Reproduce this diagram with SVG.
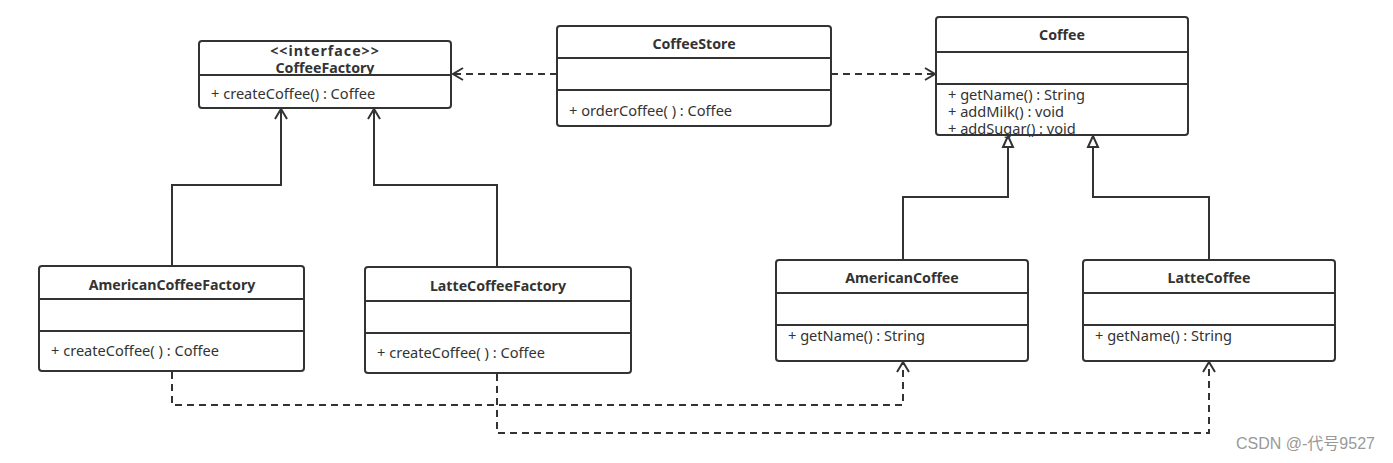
<svg xmlns="http://www.w3.org/2000/svg" width="1393" height="463" viewBox="0 0 1393 463">
<defs>
<style>
.box{fill:#fff;stroke:#333;stroke-width:2}
.div{stroke:#333;stroke-width:2}
.t{font-family:"Noto Sans","Open Sans",sans-serif;font-size:14.2px;font-weight:bold;fill:#333;text-anchor:middle}
.m{font-family:"Noto Sans","Open Sans",sans-serif;font-size:14.6px;fill:#333}
.c{fill:none;stroke:#333;stroke-width:2}
.d{fill:none;stroke:#333;stroke-width:2;stroke-dasharray:7,5}
.wm{font-family:"Liberation Sans","Noto Sans CJK SC",sans-serif;font-size:16px;fill:#999}
</style>
<marker id="open" markerWidth="14" markerHeight="14" refX="12" refY="7" orient="auto" markerUnits="userSpaceOnUse">
<path d="M2,1 L12,7 L2,13" fill="none" stroke="#333" stroke-width="2"/>
</marker>
<marker id="tri" markerWidth="14" markerHeight="14" refX="12" refY="7" orient="auto" markerUnits="userSpaceOnUse">
<path d="M1,2 L12,7 L1,12 Z" fill="#fff" stroke="#333" stroke-width="2"/>
</marker>
</defs>
<rect width="1393" height="463" fill="#fff"/>
<g id="connectors">
<path class="d" d="M557,74 H453" marker-end="url(#open)"/>
<path class="d" d="M831,74 H935" marker-end="url(#open)"/>
<path class="c" d="M172,266 V185 H281 V109" marker-end="url(#open)"/>
<path class="c" d="M497,267 V185 H374 V109" marker-end="url(#open)"/>
<path class="c" d="M903,260 V197 H1008 V136" marker-end="url(#tri)"/>
<path class="c" d="M1209,260 V197 H1093 V136" marker-end="url(#tri)"/>
<path class="d" d="M172,372 V405 H903 V362" marker-end="url(#open)"/>
<path class="d" d="M497,374 V433 H1209 V362" marker-end="url(#open)"/>
</g>
<g id="CoffeeFactory">
<rect class="box" x="199" y="41" width="252" height="67" rx="3"/>
<line class="div" x1="199" y1="75" x2="451" y2="75"/>
<text class="t" x="325" y="56" letter-spacing="1">&lt;&lt;interface&gt;&gt;</text>
<text class="t" x="325" y="73">CoffeeFactory</text>
<text class="m" x="211" y="99">+ createCoffee() : Coffee</text>
</g>
<g id="CoffeeStore">
<rect class="box" x="557" y="26" width="274" height="100" rx="3"/>
<line class="div" x1="557" y1="58" x2="831" y2="58"/>
<line class="div" x1="557" y1="90" x2="831" y2="90"/>
<text class="t" x="694" y="49">CoffeeStore</text>
<text class="m" x="569" y="116">+ orderCoffee( ) : Coffee</text>
</g>
<g id="Coffee">
<rect class="box" x="936" y="17" width="252" height="118" rx="3"/>
<line class="div" x1="936" y1="52" x2="1188" y2="52"/>
<line class="div" x1="936" y1="84" x2="1188" y2="84"/>
<text class="t" x="1062" y="40">Coffee</text>
<text class="m" x="948" y="100">+ getName() : String</text>
<text class="m" x="948" y="117">+ addMilk() : void</text>
<text class="m" x="948" y="134">+ addSugar() : void</text>
</g>
<g id="AmericanCoffeeFactory">
<rect class="box" x="39" y="266" width="265" height="105" rx="3"/>
<line class="div" x1="39" y1="299" x2="304" y2="299"/>
<line class="div" x1="39" y1="331" x2="304" y2="331"/>
<text class="t" x="172" y="290">AmericanCoffeeFactory</text>
<text class="m" x="51" y="356">+ createCoffee( ) : Coffee</text>
</g>
<g id="LatteCoffeeFactory">
<rect class="box" x="365" y="267" width="266" height="106" rx="3"/>
<line class="div" x1="365" y1="301" x2="631" y2="301"/>
<line class="div" x1="365" y1="333" x2="631" y2="333"/>
<text class="t" x="498" y="291">LatteCoffeeFactory</text>
<text class="m" x="377" y="358">+ createCoffee( ) : Coffee</text>
</g>
<g id="AmericanCoffee">
<rect class="box" x="776" y="260" width="252" height="101" rx="3"/>
<line class="div" x1="776" y1="293" x2="1028" y2="293"/>
<line class="div" x1="776" y1="325" x2="1028" y2="325"/>
<text class="t" x="902" y="283">AmericanCoffee</text>
<text class="m" x="788" y="341">+ getName() : String</text>
</g>
<g id="LatteCoffee">
<rect class="box" x="1083" y="260" width="252" height="101" rx="3"/>
<line class="div" x1="1083" y1="293" x2="1335" y2="293"/>
<line class="div" x1="1083" y1="325" x2="1335" y2="325"/>
<text class="t" x="1209" y="283">LatteCoffee</text>
<text class="m" x="1095" y="341">+ getName() : String</text>
</g>
<text class="wm" x="1236" y="449">CSDN @-代号9527</text>
</svg>
